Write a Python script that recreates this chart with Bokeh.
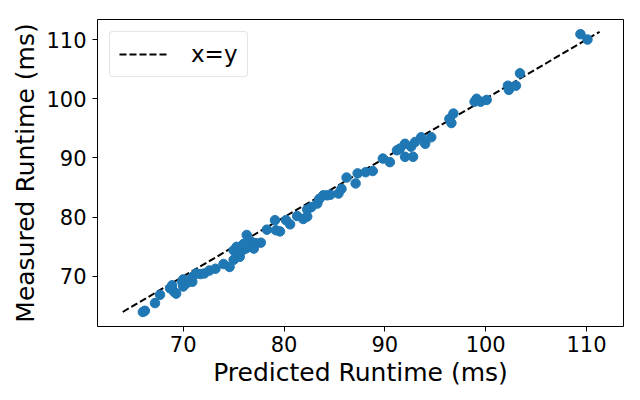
from bokeh.plotting import figure
from bokeh.models import FixedTicker, Range1d, Legend, LegendItem
from bokeh.embed import file_html
from bokeh.resources import INLINE

predicted = [66.0, 66.2, 67.2, 67.7, 68.7, 69.1, 69.3, 68.9, 69.9, 70.0, 70.3, 70.0,
             70.9, 70.9, 71.3, 71.7, 72.1, 72.6, 73.2, 74.0, 74.6, 75.0, 75.0, 75.6,
             75.8, 76.2, 76.3, 76.6, 76.8, 77.0, 77.2, 77.7, 78.3, 79.1, 79.2, 79.6,
             80.2, 80.6, 81.3, 81.9, 82.3, 82.3, 82.7, 83.3, 83.5, 83.9, 84.3, 84.6,
             85.4, 85.7, 86.2, 87.1, 87.3, 88.1, 88.8, 89.8, 90.5, 91.2, 91.5, 92.0,
             92.0, 92.6, 92.8, 93.0, 93.6, 94.0, 94.6, 96.4, 96.6, 96.8, 98.9, 99.1,
             99.5, 100.1, 102.2, 102.3, 103.0, 103.4, 109.4, 110.1,
             75.4, 76.0, 76.5, 75.3]
measured = [64.0, 64.2, 65.5, 66.9, 68.0, 67.4, 67.1, 68.5, 69.1, 68.3, 68.8, 69.5,
            69.1, 69.9, 70.5, 70.4, 70.5, 71.0, 71.3, 72.1, 71.6, 72.8, 74.4, 73.3,
            74.3, 74.7, 77.0, 75.0, 75.8, 74.7, 75.6, 75.7, 77.9, 79.5, 77.8, 77.6,
            79.5, 78.8, 80.2, 79.7, 80.1, 81.3, 81.7, 82.3, 83.1, 83.7, 83.7, 83.8,
            84.0, 84.8, 86.7, 85.7, 87.4, 87.6, 87.8, 89.9, 89.3, 91.3, 91.6, 92.4,
            90.2, 91.9, 90.2, 92.7, 93.5, 92.4, 93.5, 96.6, 95.9, 97.5, 99.5, 100.0,
            99.5, 99.8, 102.2, 101.5, 102.2, 104.3, 110.9, 110.0,
            74.0, 75.5, 76.0, 75.0]
line_x = [64.0, 111.3]
line_y = [64.0, 111.3]
ticks = [70, 80, 90, 100, 110]

FONT = "DejaVu Sans"

p = figure(width=632, height=392, output_backend="svg", toolbar_location=None,
           x_range=Range1d(61.5, 113.67), y_range=Range1d(61.55, 113.38),
           min_border_left=97, min_border_right=9, min_border_top=19,
           min_border_bottom=66)
p.grid.visible = False
p.outline_line_color = "black"
p.outline_line_width = 1
p.background_fill_color = "white"
p.border_fill_color = "white"

ln = p.line(line_x, line_y, line_color="black", line_width=2, line_dash="7 3")
p.scatter(predicted, measured, size=9.5, fill_color="#1f77b4", line_color="#1f77b4")

for ax in (p.xaxis[0], p.yaxis[0]):
    ax.ticker = FixedTicker(ticks=ticks)
    ax.minor_tick_line_color = None
    ax.major_tick_out = 5
    ax.major_tick_in = 0
    ax.major_label_text_font = FONT
    ax.major_label_text_font_size = "21px"
    ax.major_label_text_color = "black"
    ax.axis_label_text_font = FONT
    ax.axis_label_text_font_size = "25px"
    ax.axis_label_text_font_style = "normal"
    ax.axis_label_text_color = "black"
    ax.axis_line_color = None
    ax.major_tick_line_color = "black"

p.xaxis.axis_label = "Predicted Runtime (ms)"
p.yaxis.axis_label = "Measured Runtime (ms)"
p.xaxis.axis_label_standoff = 3
p.yaxis.axis_label_standoff = 3
p.xaxis.major_label_standoff = 4
p.yaxis.major_label_standoff = 6

legend = Legend(items=[LegendItem(label="x=y", renderers=[ln])], location="top_left")
legend.label_text_font = FONT
legend.label_text_font_size = "23px"
legend.label_text_color = "black"
legend.border_line_color = "#cccccc"
legend.border_radius = 4
legend.glyph_width = 50
legend.padding = 9
legend.margin = 12
legend.label_standoff = 22
p.add_layout(legend)

open("out.html", "w").write(file_html(p, INLINE))
